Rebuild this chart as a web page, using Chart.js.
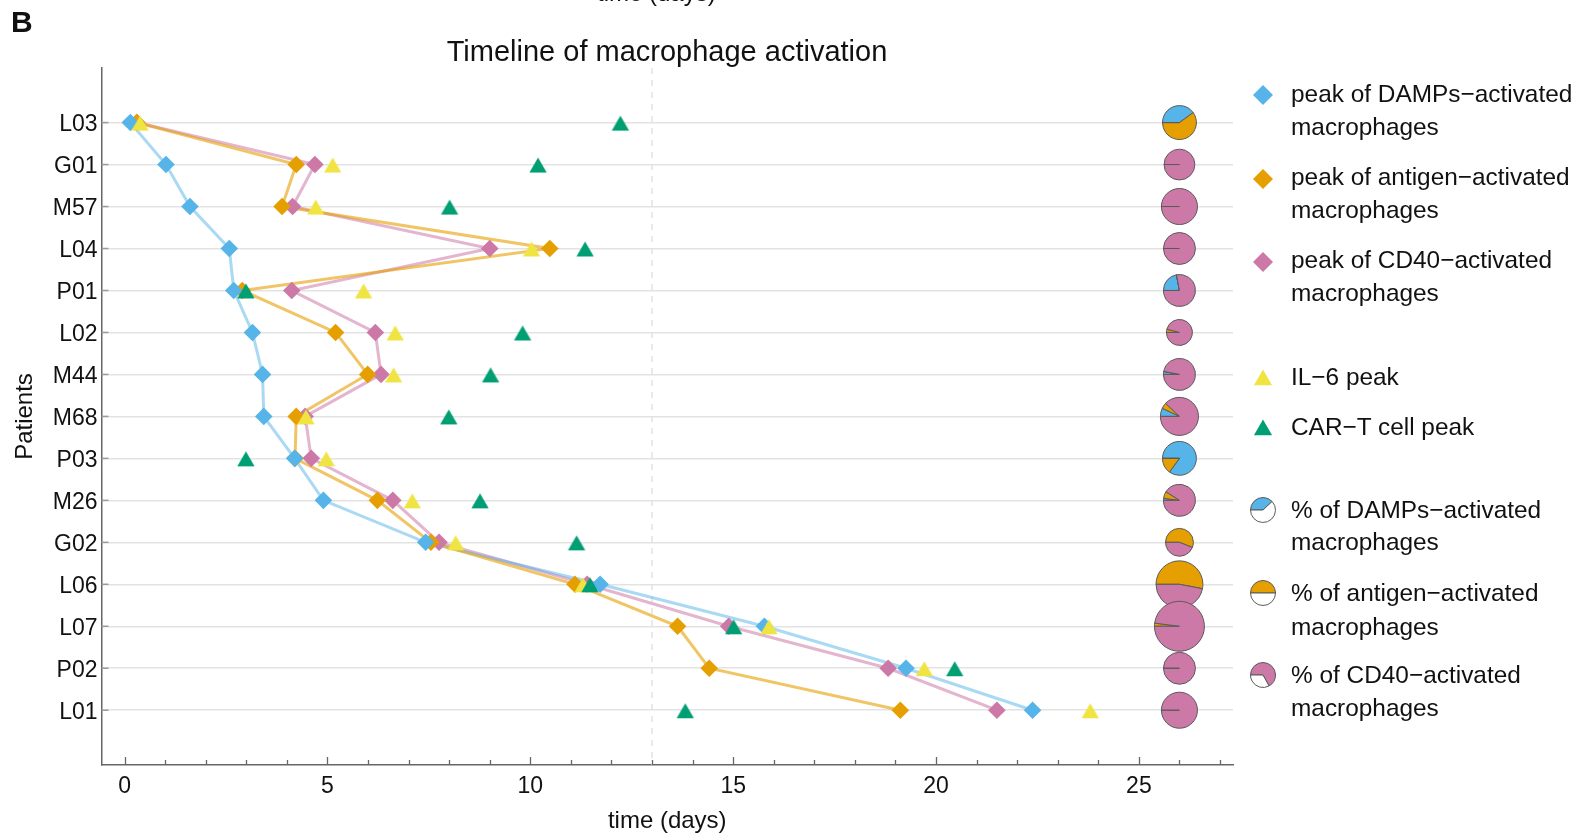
<!DOCTYPE html>
<html><head><meta charset="utf-8">
<script src="https://cdn.jsdelivr.net/npm/chart.js@4"></script>
<style>
html,body{margin:0;padding:0;background:#fff;}
body{width:1575px;height:838px;position:relative;overflow:hidden;font-family:"Liberation Sans",Arial,Helvetica,sans-serif;color:#111;}
#wrap{position:absolute;left:0;top:0;width:1575px;height:838px;}
.t{position:absolute;white-space:nowrap;}
.lg{font-size:24.4px;line-height:34px;color:#111;}
</style></head><body>
<div id="wrap"><canvas id="c" width="1575" height="838"></canvas></div>
<div class="t" style="left:597px;top:-21px;font-size:24px;line-height:28px;">time (days)</div>
<div class="t" style="left:11px;top:7px;font-size:30px;line-height:30px;font-weight:bold;">B</div>
<div class="t" id="title" style="left:0;width:1334px;text-align:center;top:37px;font-size:29px;line-height:29px;">Timeline of macrophage activation</div>
<div id="legend"></div>
<script>
// ---------------- DATA ----------------
const patients = ['L03','G01','M57','L04','P01','L02','M44','M68','P03','M26','G02','L06','L07','P02','L01'];
// peak times (days)
const dampsPeak   = [0.14, 1.02, 1.61, 2.58, 2.69, 3.15, 3.40, 3.43, 4.19, 4.90, 7.42, 11.72, 15.77, 19.26, 22.38];
const antigenPeak = [0.30, 4.23, 3.88, 10.48, 2.90, 5.20, 5.99, 4.23, 4.20, 6.23, 7.55, 11.10, 13.63, 14.41, 19.12];
const cd40Peak    = [0.30, 4.69, 4.14, 9.00, 4.12, 6.18, 6.32, 4.45, 4.60, 6.61, 7.75, 11.40, 14.89, 18.82, 21.50];
const il6Peak     = [0.38, 5.13, 4.71, 10.03, 5.89, 6.67, 6.63, 4.47, 4.97, 7.09, 8.16, 11.30, 15.88, 19.71, 23.80];
const cartPeak    = [12.22, 10.19, 8.01, 11.35, 2.99, 9.81, 9.02, 7.99, 2.99, 8.76, 11.14, 11.47, 15.01, 20.46, 13.82];
// composition of activated macrophages (%)
const pctDamps    = [40, 0, 0, 0, 22, 0, 3, 7, 85, 2, 0, 0, 0, 0, 0];
const pctAntigen  = [60, 0, 0, 0, 0, 4, 0, 5, 15, 7, 56, 53, 2, 0, 0];
const pctCd40     = [0, 100, 100, 100, 78, 96, 97, 88, 0, 91, 44, 47, 98, 100, 100];
// relative total of activated macrophages (largest = 100)
const totalActivated = [46, 38, 52, 41, 41, 27, 41, 58, 46, 41, 31, 88, 100, 41, 52];
const xTickValues = [0, 5, 10, 15, 20, 25];
const markerDay = 13;   // dashed reference line
const pieDay = 26;      // column where pies are placed
const xAxisTitle = 'time (days)';
const yAxisTitle = 'Patients';
const legendLabels = [
  ['peak of DAMPs\u2212activated','macrophages'],
  ['peak of antigen\u2212activated','macrophages'],
  ['peak of CD40\u2212activated','macrophages'],
  ['IL\u22126 peak'],
  ['CAR\u2212T cell peak'],
  ['% of DAMPs\u2212activated','macrophages'],
  ['% of antigen\u2212activated','macrophages'],
  ['% of CD40\u2212activated','macrophages']
];

// ---------------- STYLE ----------------
const FONT = '"Liberation Sans", Arial, Helvetica, sans-serif';
const BLUE = '#56B4E9', ORANGE = '#E69F00', PINK = '#CC79A7', YELLOW = '#F0E442', GREEN = '#009E73';
const PIE_MAX_R = 25;

// legend HTML text
const legendBaselines = [[102.7,135.5],[185,218.3],[268.3,301.7],[385],[435],[518.3,550.5],[601.7,635],[683.3,716.7]];
const lg = document.getElementById('legend');
legendLabels.forEach((lines, k) => {
  lines.forEach((txt, j) => {
    const d = document.createElement('div');
    d.className = 't lg';
    d.style.left = '1291px';
    d.style.top = (legendBaselines[k][j] - 25.4) + 'px';
    d.textContent = txt;
    lg.appendChild(d);
  });
});

const pts = arr => arr.map((v, i) => ({x: v, y: i}));
const lineDs = (arr, color) => ({data: pts(arr), showLine: true, borderColor: color, borderWidth: 3, pointRadius: 0, pointHoverRadius: 0, fill: false});
const markDs = (arr, color, style, r) => ({data: pts(arr), showLine: false, pointStyle: style, pointRadius: r, pointHoverRadius: r, backgroundColor: color, borderColor: color, pointBorderWidth: 0});

function diamond(ctx, x, y, r, c) {
  ctx.beginPath(); ctx.moveTo(x, y - r); ctx.lineTo(x + r, y); ctx.lineTo(x, y + r); ctx.lineTo(x - r, y); ctx.closePath();
  ctx.fillStyle = c; ctx.fill();
}
function triangle(ctx, x, y, r, c) {
  ctx.beginPath();
  for (let k = 0; k < 3; k++) {
    const a = -Math.PI / 2 + k * 2 * Math.PI / 3;
    const px = x + r * Math.cos(a), py = y + r * Math.sin(a);
    if (k === 0) ctx.moveTo(px, py); else ctx.lineTo(px, py);
  }
  ctx.closePath(); ctx.fillStyle = c; ctx.fill();
}
// triangle marker image, drawn slightly below the data point (as in the source figure)
function triangleImage(color) {
  const cv = document.createElement('canvas');
  cv.width = 24; cv.height = 36;
  triangle(cv.getContext('2d'), 12, 18 + 3, 10, color);
  return cv;
}
function pie(ctx, cx, cy, r, parts) {
  const sum = parts.reduce((s, p) => s + p[0], 0) || 1;
  let a = Math.PI;
  parts.forEach(([v, c]) => {
    const da = v / sum * Math.PI * 2;
    ctx.beginPath(); ctx.moveTo(cx, cy); ctx.arc(cx, cy, r, a, a + da); ctx.closePath();
    ctx.fillStyle = c; ctx.fill();
    ctx.strokeStyle = '#5a5a5a'; ctx.lineWidth = 1; ctx.stroke();
    a += da;
  });
}

const overlay = {
  id: 'overlay',
  beforeDatasetsDraw(chart) {
    const {ctx, chartArea, scales: {x}} = chart;
    ctx.save();
    ctx.strokeStyle = '#dedede'; ctx.lineWidth = 1.3; ctx.setLineDash([6, 6]);
    const px = x.getPixelForValue(markerDay);
    ctx.beginPath(); ctx.moveTo(px, chartArea.top); ctx.lineTo(px, chartArea.bottom); ctx.stroke();
    ctx.restore();
  },
  afterDatasetsDraw(chart) {
    const {ctx, scales: {x, y}} = chart;
    ctx.save();
    patients.forEach((p, i) => {
      const cx = x.getPixelForValue(pieDay), cy = y.getPixelForValue(i);
      const r = PIE_MAX_R * Math.sqrt(totalActivated[i] / 100);
      pie(ctx, cx, cy, r, [[pctDamps[i], BLUE], [pctAntigen[i], ORANGE], [pctCd40[i], PINK]]);
    });
    ctx.restore();
  },
  afterDraw(chart) {
    const {ctx, chartArea, scales: {x, y}} = chart;
    ctx.save();
    // inward x ticks
    ctx.strokeStyle = '#666'; ctx.lineWidth = 1.3;
    for (let d = 0; d <= 27; d++) {
      const px = Math.round(x.getPixelForValue(d)) + 0.5;
      const len = d % 5 === 0 ? 8 : 5;
      ctx.beginPath(); ctx.moveTo(px, chartArea.bottom); ctx.lineTo(px, chartArea.bottom - len); ctx.stroke();
    }
    // inward y ticks
    ctx.strokeStyle = '#9a9a9a'; ctx.lineWidth = 1.5;
    patients.forEach((p, i) => {
      const py = y.getPixelForValue(i);
      ctx.beginPath(); ctx.moveTo(chartArea.left, py); ctx.lineTo(chartArea.left + 7, py); ctx.stroke();
    });
    // legend icons
    const lx = 1263;
    diamond(ctx, lx, 95, 10, BLUE);
    diamond(ctx, lx, 179, 10, ORANGE);
    diamond(ctx, lx, 262, 10, PINK);
    triangle(ctx, lx, 380, 10.5, YELLOW);
    triangle(ctx, lx, 430, 10.5, GREEN);
    pie(ctx, lx, 510, 12.5, [[38, BLUE], [62, '#ffffff']]);
    pie(ctx, lx, 593, 12.5, [[50, ORANGE], [50, '#ffffff']]);
    pie(ctx, lx, 675, 12.5, [[67, PINK], [33, '#ffffff']]);
    ctx.restore();
  }
};

new Chart(document.getElementById('c'), {
  type: 'scatter',
  data: {
    datasets: [
      markDs(cartPeak, GREEN, triangleImage(GREEN), 10),
      markDs(il6Peak, YELLOW, triangleImage(YELLOW), 10),
      markDs(dampsPeak, BLUE, 'rectRot', 8.8),
      markDs(antigenPeak, ORANGE, 'rectRot', 8.8),
      markDs(cd40Peak, PINK, 'rectRot', 8.8),
      lineDs(antigenPeak, 'rgba(230,159,0,0.6)'),
      lineDs(dampsPeak, 'rgba(86,180,233,0.5)'),
      lineDs(cd40Peak, 'rgba(204,121,167,0.55)')
    ]
  },
  options: {
    responsive: false, animation: false, events: [],
    layout: {padding: {top: 68, right: 342, bottom: 0, left: 0}},
    plugins: {legend: {display: false}, tooltip: {enabled: false}, title: {display: false}},
    scales: {
      x: {
        type: 'linear', min: -0.57, max: 27.32,
        afterFit(s) { s.height = 73; },
        afterBuildTicks(s) { s.ticks = xTickValues.map(v => ({value: v})); },
        grid: {display: false, drawTicks: false},
        border: {display: true, color: '#666', width: 1.5},
        ticks: {font: {family: FONT, size: 23}, color: '#111', padding: 8, maxRotation: 0, autoSkip: false},
        title: {display: true, text: xAxisTitle, font: {family: FONT, size: 24}, color: '#111', padding: {top: 0, bottom: 2}}
      },
      y: {
        type: 'linear', reverse: true, min: -1.3, max: 15.305,
        afterFit(s) { s.width = 101.5; },
        afterBuildTicks(s) { s.ticks = patients.map((_, i) => ({value: i})); },
        grid: {color: '#e3e3e3', lineWidth: 1.5, drawTicks: false},
        border: {display: true, color: '#666', width: 1.5},
        ticks: {font: {family: FONT, size: 23}, color: '#111', padding: 4, labelOffset: 2, autoSkip: false, callback: v => patients[v] ?? ''},
        title: {display: true, text: yAxisTitle, font: {family: FONT, size: 24}, color: '#111', padding: {top: 10.6, bottom: 0}}
      }
    }
  },
  plugins: [overlay]
});
</script>
</body></html>
